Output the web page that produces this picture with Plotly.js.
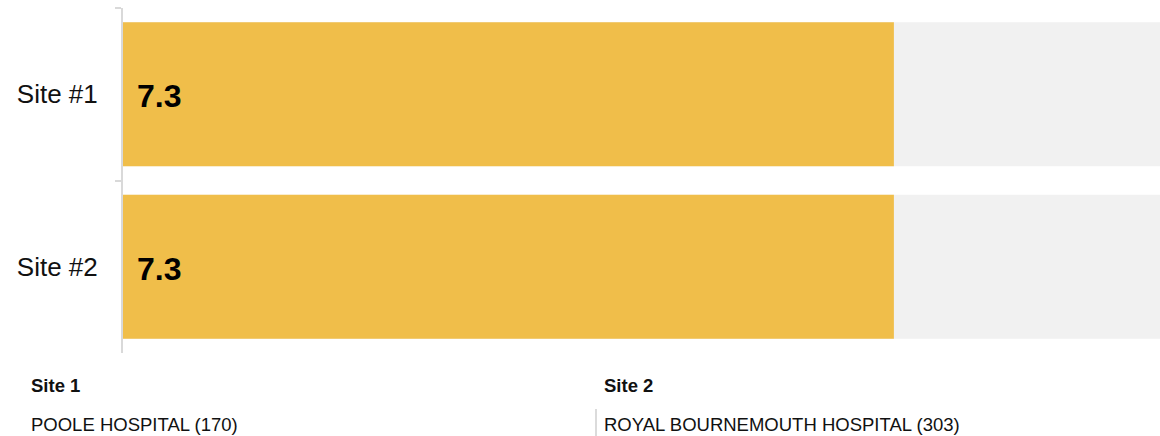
<!DOCTYPE html>
<html>
<head>
<meta charset="utf-8">
<script src="https://cdn.plot.ly/plotly-3.0.1.min.js"></script>
<style>
html,body{margin:0;padding:0;background:#fff;}
#chart{width:1160px;height:436px;}
</style>
</head>
<body>
<div id="chart"></div>
<script>
// ---- data ----
var sites = ["Site #1", "Site #2"];
var scores = [7.3, 7.3];
var scaleMax = 9.82;
var siteHeaders = ["Site 1", "Site 2"];
var siteNames = ["POOLE HOSPITAL (170)", "ROYAL BOURNEMOUTH HOSPITAL (303)"];

var W = 1160, H = 436;
var m = {l: 123, r: 0, t: 8, b: 83};
var pw = W - m.l - m.r, ph = H - m.t - m.b;
function px(x) { return (x - m.l) / pw; }
function py(y) { return (H - m.b - y) / ph; }

var font = "'Liberation Sans', Arial, Helvetica, sans-serif";

var bg = {
  type: "bar", orientation: "h",
  y: sites, x: sites.map(function(){ return scaleMax; }),
  marker: {color: "#f1f1f1"}, hoverinfo: "skip", showlegend: false
};
var fg = {
  type: "bar", orientation: "h",
  y: sites, x: scores,
  marker: {color: "#f0be4a"}, showlegend: false
};

var annotations = [];
sites.forEach(function(s, i) {
  annotations.push({
    x: 0, y: s, xref: "x", yref: "y", xanchor: "left", yanchor: "middle",
    xshift: 12, yshift: -2, showarrow: false,
    text: "<b>" + scores[i].toFixed(1) + "</b>",
    font: {family: font, size: 32, color: "#000"}
  });
});
var headerX = [30, 603];
siteHeaders.forEach(function(h, i) {
  annotations.push({
    x: px(headerX[i]), y: py(385), xref: "paper", yref: "paper",
    xanchor: "left", yanchor: "middle", showarrow: false, borderpad: 0,
    text: "<b>" + h + "</b>", font: {family: font, size: 18.5, color: "#111"}
  });
  annotations.push({
    x: px(headerX[i]), y: py(424), xref: "paper", yref: "paper",
    xanchor: "left", yanchor: "middle", showarrow: false, borderpad: 0,
    text: siteNames[i], font: {family: font, size: 18.5, color: "#111"}
  });
});

var layout = {
  width: W, height: H,
  margin: m,
  paper_bgcolor: "#fff", plot_bgcolor: "#fff",
  barmode: "overlay",
  bargap: 0.165,
  xaxis: {range: [0, scaleMax], visible: false, fixedrange: true},
  yaxis: {
    autorange: "reversed",
    showline: true, linecolor: "#d9d9d9", linewidth: 2,
    ticks: "outside", tickson: "boundaries", ticklen: 6, tickcolor: "#d9d9d9", tickwidth: 2,
    showgrid: false, zeroline: false,
    ticklabelstandoff: 18,
    tickfont: {family: font, size: 26, color: "#111"}
  },
  annotations: annotations,
  shapes: [{
    type: "line", xref: "paper", yref: "paper",
    x0: px(596), x1: px(596), y0: py(409), y1: py(436),
    line: {color: "#cfcfcf", width: 1.5}
  }]
};

Plotly.newPlot("chart", [bg, fg], layout, {displayModeBar: false, staticPlot: true});
</script>
</body>
</html>
